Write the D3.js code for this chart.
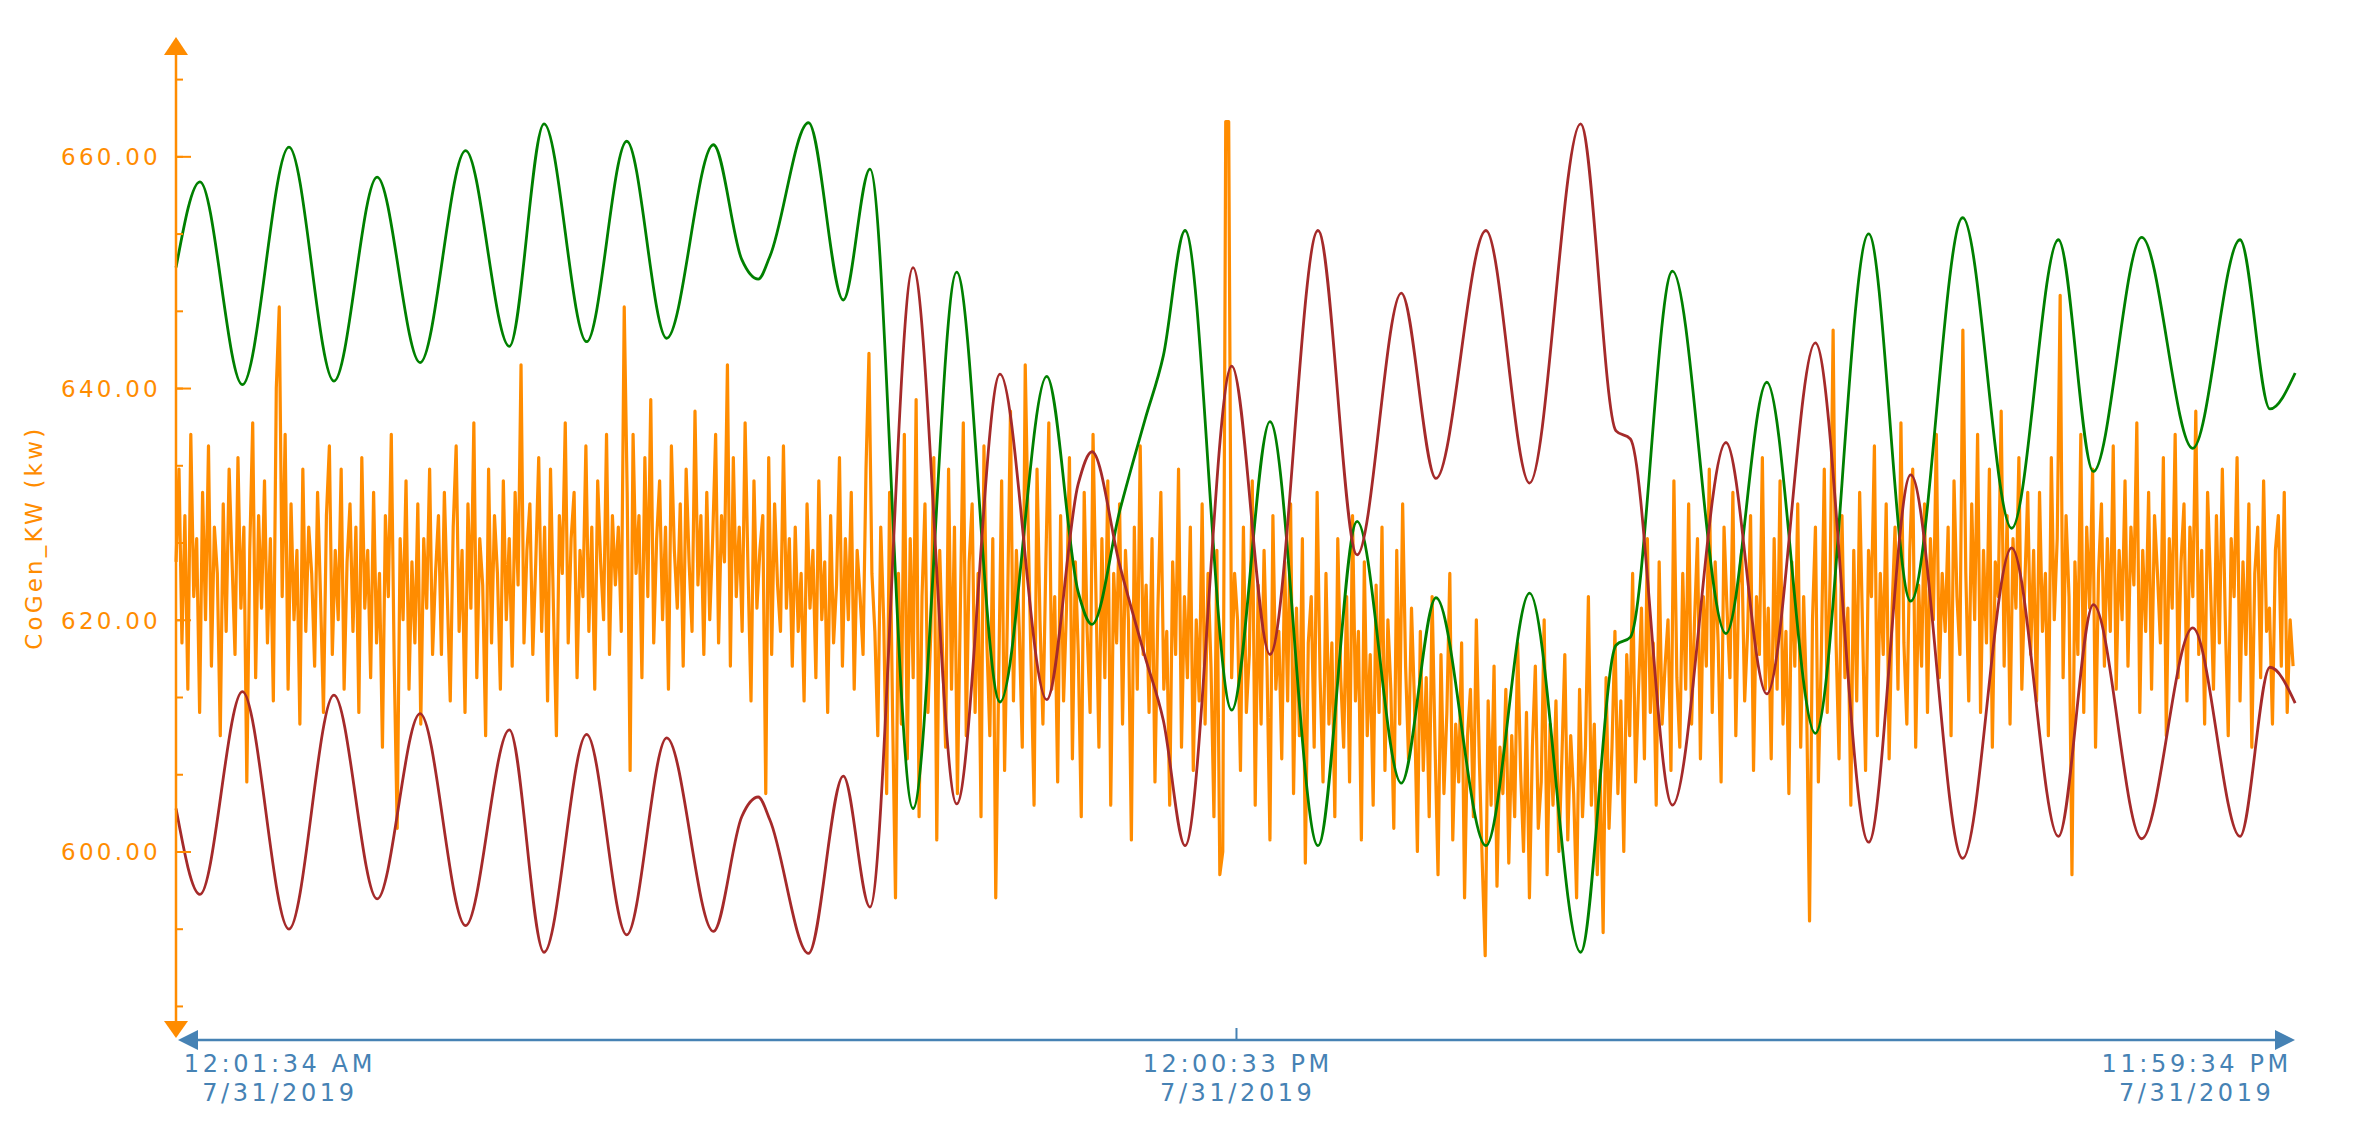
<!DOCTYPE html>
<html>
<head>
<meta charset="utf-8">
<title>CoGen_KW</title>
<script src="https://cdn.jsdelivr.net/npm/d3@7"></script>
<style>
  html, body { margin: 0; padding: 0; background: #fff; overflow: hidden; }
  svg { display: block; font-family: "DejaVu Sans", Verdana, sans-serif; }
</style>
</head>
<body>
<svg id="chart"></svg>
<script>
// [minute of day, kW] - turning points
const greenPoints = [
  [1.6, 650.4], [17.8, 657.8], [46.6, 640.3], [78.2, 660.8], [108.7, 640.6], [138.0, 658.2],
  [167.1, 642.2], [198.0, 660.5], [227.7, 643.6], [251.2, 662.8], [280.1, 644.0], [307.3, 661.3],
  [334.4, 644.3], [366.1, 661.0], [385.3, 651.1], [396.5, 649.4], [404.5, 651.4], [430.6, 662.9],
  [454.2, 647.6], [472.3, 658.9], [501.5, 603.7], [531.1, 650.0], [560.5, 612.9], [592.2, 641.0],
  [613.5, 622.4], [622.9, 619.6], [641.9, 629.5], [658.9, 637.3], [671.3, 642.8], [686.0, 653.6],
  [717.7, 612.2], [743.6, 637.1], [776.2, 600.5], [802.7, 628.5], [832.7, 605.9], [856.2, 621.9],
  [890.1, 600.5], [919.7, 622.3], [954.3, 591.3], [978.3, 617.8], [988.1, 618.5], [1016.6, 650.1],
  [1052.9, 618.8], [1080.6, 640.5], [1113.5, 610.2], [1149.7, 653.3], [1178.2, 621.6], [1213.5, 654.7],
  [1246.7, 627.9], [1278.4, 652.8], [1302.1, 632.8], [1334.9, 653.0], [1369.5, 634.8], [1401.6, 652.8],
  [1421.9, 638.2], [1439.0, 641.3]
];

const brownPoints = [
  [1.6, 603.7], [17.8, 596.3], [46.6, 613.8], [78.2, 593.3], [108.7, 613.5], [138.0, 595.9],
  [167.1, 611.9], [198.0, 593.6], [227.7, 610.5], [251.2, 591.3], [280.1, 610.1], [307.3, 592.8],
  [334.4, 609.8], [366.1, 593.1], [385.3, 603.0], [396.5, 604.7], [404.5, 602.7], [430.6, 591.2],
  [454.2, 606.5], [472.3, 595.2], [501.5, 650.4], [531.1, 604.1], [560.5, 641.2], [592.2, 613.1],
  [613.5, 631.7], [622.9, 634.5], [641.9, 624.6], [658.9, 616.8], [671.3, 611.3], [686.0, 600.5],
  [717.7, 641.9], [743.6, 617.0], [776.2, 653.6], [802.7, 625.6], [832.7, 648.2], [856.2, 632.2],
  [890.1, 653.6], [919.7, 631.8], [954.3, 662.8], [978.3, 636.3], [988.1, 635.6], [1016.6, 604.0],
  [1052.9, 635.3], [1080.6, 613.6], [1113.5, 643.9], [1149.7, 600.8], [1178.2, 632.5], [1213.5, 599.4],
  [1246.7, 626.2], [1278.4, 601.3], [1302.1, 621.3], [1334.9, 601.1], [1369.5, 619.3], [1401.6, 601.3],
  [1421.9, 615.9], [1439.0, 612.8]
];

// CoGen_KW samples, one every 2 minutes from 00:01:36
const orangeStartMin = 1.6;
const orangeStepMin = 2;
const orangeValues = [
  625, 633, 618, 629, 614, 636, 622, 627, 612, 631, 620, 635, 616, 628, 624, 610, 630, 619, 633, 625, 617, 634, 621, 628, 606, 626, 637, 615, 629, 621,
  632, 618, 627, 613, 640, 647, 622, 636, 614, 630, 620, 626, 611, 633, 619, 628, 624, 616, 631, 622, 612, 629, 635, 617, 626, 620, 633, 614, 625, 630,
  619, 628, 612, 634, 621, 626, 615, 631, 618, 624, 609, 629, 622, 636, 616, 602, 627, 620, 632, 614, 625, 618, 630, 611, 627, 621, 633, 617, 624, 629,
  617, 631, 622, 613, 628, 635, 619, 626, 612, 630, 621, 637, 615, 627, 623, 610, 633, 618, 629, 624, 614, 632, 620, 627, 616, 631, 623, 642, 618, 626,
  630, 617, 625, 634, 619, 628, 613, 633, 621, 610, 629, 624, 637, 618, 627, 631, 615, 626, 622, 635, 619, 628, 614, 632, 625, 620, 636, 617, 629, 623,
  628, 619, 647, 631, 607, 636, 624, 629, 615, 634, 622, 639, 618, 627, 632, 620, 628, 614, 635, 626, 621, 630, 616, 633, 625, 619, 638, 623, 629, 617,
  631, 620, 627, 636, 618, 629, 625, 642, 616, 634, 622, 628, 619, 637, 624, 613, 632, 621, 626, 629, 605, 634, 617, 630, 623, 619, 635, 621, 627, 616,
  628, 619, 624, 613, 630, 621, 626, 615, 632, 620, 625, 612, 629, 618, 623, 634, 616, 627, 620, 631, 614, 626, 622, 617, 633, 643, 624, 619, 610, 628,
  620, 605, 631, 612, 596, 624, 611, 636, 608, 627, 615, 639, 603, 622, 630, 612, 619, 634, 601, 626, 617, 609, 633, 614, 628, 605, 621, 637, 610, 625,
  630, 612, 624, 603, 635, 618, 610, 627, 596, 615, 632, 607, 621, 638, 613, 626, 619, 609, 642, 628, 616, 604, 633, 620, 611, 625, 637, 614, 622, 606,
  629, 613, 621, 634, 608, 625, 617, 603, 631, 619, 612, 636, 622, 609, 627, 615, 632, 604, 624, 618, 630, 611, 626, 620, 601, 628, 614, 635, 617, 623,
  612, 627, 606, 621, 631, 614, 619, 604, 625, 617, 633, 609, 622, 615, 628, 607, 620, 613, 630, 611, 624, 616, 603, 626, 598, 600, 663, 663, 615, 624,
  620, 607, 628, 612, 617, 632, 604, 623, 611, 626, 616, 601, 629, 614, 619, 608, 625, 613, 630, 605, 621, 610, 627, 599, 618, 622, 609, 631, 615, 606,
  624, 611, 618, 603, 627, 615, 609, 622, 606, 629, 613, 619, 601, 625, 610, 617, 604, 623, 612, 628, 607, 620, 614, 602, 626, 611, 630, 616, 608, 621,
  613, 600, 619, 607, 615, 603, 622, 609, 598, 617, 605, 612, 624, 601, 611, 606, 618, 596, 610, 614, 603, 620, 608, 599, 591, 613, 604, 616, 597, 609,
  605, 614, 599, 610, 603, 618, 607, 600, 612, 596, 609, 616, 602, 606, 620, 598, 611, 604, 613, 600, 608, 617, 601, 610, 605, 596, 614, 603, 609, 622,
  604, 611, 598, 607, 593, 615, 602, 609, 619, 605, 613, 600, 617, 610, 624, 606, 614, 621, 608, 627, 612, 618, 604, 625, 611, 616, 620, 607, 632, 615,
  609, 624, 614, 630, 611, 620, 627, 608, 622, 616, 633, 612, 625, 618, 606, 628, 621, 615, 631, 610, 623, 626, 613, 619, 629, 607, 622, 617, 634, 614,
  621, 608, 627, 614, 632, 611, 619, 605, 625, 616, 630, 609, 622, 613, 594, 620, 628, 606, 617, 633, 612, 624, 645, 618, 608, 629, 615, 621, 604, 626,
  613, 631, 619, 607, 626, 622, 635, 610, 624, 617, 630, 608, 621, 628, 614, 637, 618, 611, 626, 633, 609, 623, 616, 630, 612, 627, 620, 636, 615, 624,
  619, 628, 610, 632, 622, 617, 645, 624, 613, 630, 620, 636, 612, 626, 618, 633, 609, 625, 622, 638, 616, 629, 611, 627, 621, 634, 614, 623, 631, 617,
  626, 613, 631, 619, 624, 610, 634, 620, 627, 648, 615, 629, 622, 598, 625, 617, 636, 612, 628, 621, 633, 609, 624, 630, 616, 627, 619, 635, 614, 626,
  620, 632, 616, 628, 623, 637, 612, 626, 619, 631, 614, 629, 624, 618, 634, 610, 627, 621, 636, 615, 625, 630, 613, 628, 622, 638, 617, 626, 611, 631,
  623, 614, 629, 618, 633, 620, 610, 627, 622, 634, 613, 625, 617, 630, 609, 624, 628, 615, 632, 619, 621, 611, 626, 629, 616, 631, 612, 620, 616
];

const yTickValues = [600, 620, 640, 660];
const yMinorStep = 20 / 3;
const xTickTimes = ["2019-07-31T00:01:34", "2019-07-31T12:00:33", "2019-07-31T23:59:34"];
const yTitle = "CoGen_KW (kw)";

document.addEventListener("DOMContentLoaded", () => {
    const width = 2367;
    const height = 1125;
    const svg = d3.select("#chart").attr("width", width).attr("height", height);

    const orange = "#ff8c00";
    const axisBlue = "#4682b4";

    const parseTime = d3.timeParse("%Y-%m-%dT%H:%M:%S");
    const dayStart = new Date(2019, 6, 31);
    const atMinute = (m) => new Date(dayStart.getTime() + m * 60000);
    const tickDates = xTickTimes.map(parseTime);

    const x = d3.scaleTime().domain([tickDates[0], tickDates[tickDates.length - 1]]).range([176, 2296]);
    const y = d3.scaleLinear().domain([583.9, 670.3]).range([1038, 37]);

    const axisX = x.range()[0];
    const axisY = 1040;

    // Series (orange first so the trend lines sit on top)
    const orangeLine = d3.line()
        .x((d, i) => x(atMinute(orangeStartMin + i * orangeStepMin)))
        .y((d) => y(d));

    svg.append("path")
        .datum(orangeValues)
        .attr("fill", "none")
        .attr("stroke", orange)
        .attr("stroke-width", 3.2)
        .attr("stroke-linejoin", "round")
        .attr("d", orangeLine);

    const trendLine = d3.line()
        .x((d) => x(atMinute(d[0])))
        .y((d) => y(d[1]))
        .curve(d3.curveMonotoneX);

    svg.append("path")
        .datum(greenPoints)
        .attr("fill", "none")
        .attr("stroke", "#008000")
        .attr("stroke-width", 2.8)
        .attr("d", trendLine);

    svg.append("path")
        .datum(brownPoints)
        .attr("fill", "none")
        .attr("stroke", "#a52a2a")
        .attr("stroke-width", 2.8)
        .attr("d", trendLine);

    // Y axis: line with arrow heads, minor + major ticks pointing inward
    const [yBottom, yTop] = y.range();
    svg.append("line")
        .attr("x1", axisX).attr("x2", axisX)
        .attr("y1", yTop + 10).attr("y2", yBottom - 10)
        .attr("stroke", orange)
        .attr("stroke-width", 2.5);

    svg.append("path")
        .attr("d", `M${axisX},${yTop} L${axisX - 12},${yTop + 18} L${axisX + 12},${yTop + 18} Z`)
        .attr("fill", orange);
    svg.append("path")
        .attr("d", `M${axisX},${yBottom} L${axisX - 12},${yBottom - 17} L${axisX + 12},${yBottom - 17} Z`)
        .attr("fill", orange);

    const minorTicks = d3.range(600 - 2 * yMinorStep, 668, yMinorStep);

    svg.append("g")
        .attr("transform", `translate(${axisX},0)`)
        .call(d3.axisRight(y).tickValues(minorTicks).tickSize(7).tickFormat(""))
        .call((g) => g.select(".domain").remove())
        .selectAll("line")
        .attr("stroke", orange)
        .attr("stroke-width", 2);

    svg.append("g")
        .attr("transform", `translate(${axisX},0)`)
        .call(d3.axisRight(y).tickValues(yTickValues).tickSize(15).tickFormat(""))
        .call((g) => g.select(".domain").remove())
        .selectAll("line")
        .attr("stroke", orange)
        .attr("stroke-width", 2);

    const yLabels = svg.append("g")
        .attr("transform", `translate(${axisX},0)`)
        .call(d3.axisLeft(y).tickValues(yTickValues).tickSize(0).tickPadding(15).tickFormat(d3.format(".2f")))
        .call((g) => g.select(".domain").remove());
    yLabels.attr("font-family", null).attr("font-size", null);
    yLabels.selectAll("text")
        .attr("fill", orange)
        .attr("font-size", 23)
        .attr("letter-spacing", "3.25px")
        .attr("dy", "0.36em");

    svg.append("text")
        .attr("transform", `translate(42, ${y(620) - 82}) rotate(-90)`)
        .attr("text-anchor", "middle")
        .attr("fill", orange)
        .attr("font-size", 23)
        .attr("letter-spacing", "3.2px")
        .text(yTitle);

    // X axis: blue line with arrow heads and a single centre tick
    const [xLeft, xRight] = x.range();
    svg.append("line")
        .attr("x1", xLeft + 12).attr("x2", xRight - 12)
        .attr("y1", axisY).attr("y2", axisY)
        .attr("stroke", axisBlue)
        .attr("stroke-width", 2.4);

    svg.append("path")
        .attr("d", `M${xLeft + 2},${axisY} L${xLeft + 22},${axisY - 10} L${xLeft + 22},${axisY + 10} Z`)
        .attr("fill", axisBlue);
    svg.append("path")
        .attr("d", `M${xRight - 1},${axisY} L${xRight - 21},${axisY - 10} L${xRight - 21},${axisY + 10} Z`)
        .attr("fill", axisBlue);

    svg.append("g")
        .attr("transform", `translate(0,${axisY})`)
        .call(d3.axisBottom(x).tickValues([tickDates[1]]).tickSize(-12).tickFormat(""))
        .call((g) => g.select(".domain").remove())
        .selectAll("line")
        .attr("stroke", axisBlue)
        .attr("stroke-width", 2);

    const timeFmt = d3.timeFormat("%-I:%M:%S %p");
    const dateFmt = d3.timeFormat("%-m/%-d/%Y");

    tickDates.forEach((t, i) => {
        const label = svg.append("g")
            .attr("fill", axisBlue)
            .attr("font-size", 24)
            .attr("letter-spacing", "3.6px")
            .attr("text-anchor", "middle");
        const l1 = label.append("text").attr("y", 1072).text(timeFmt(t));
        label.append("text").attr("y", 1101).text(dateFmt(t));

        const w = l1.node().getComputedTextLength();
        let cx = x(t);
        if (i === 0) cx = xLeft + 6 + w / 2;
        if (i === tickDates.length - 1) cx = xRight - 6 - w / 2;
        label.selectAll("text").attr("x", cx + 1.8);
    });
});
</script>
</body>
</html>
